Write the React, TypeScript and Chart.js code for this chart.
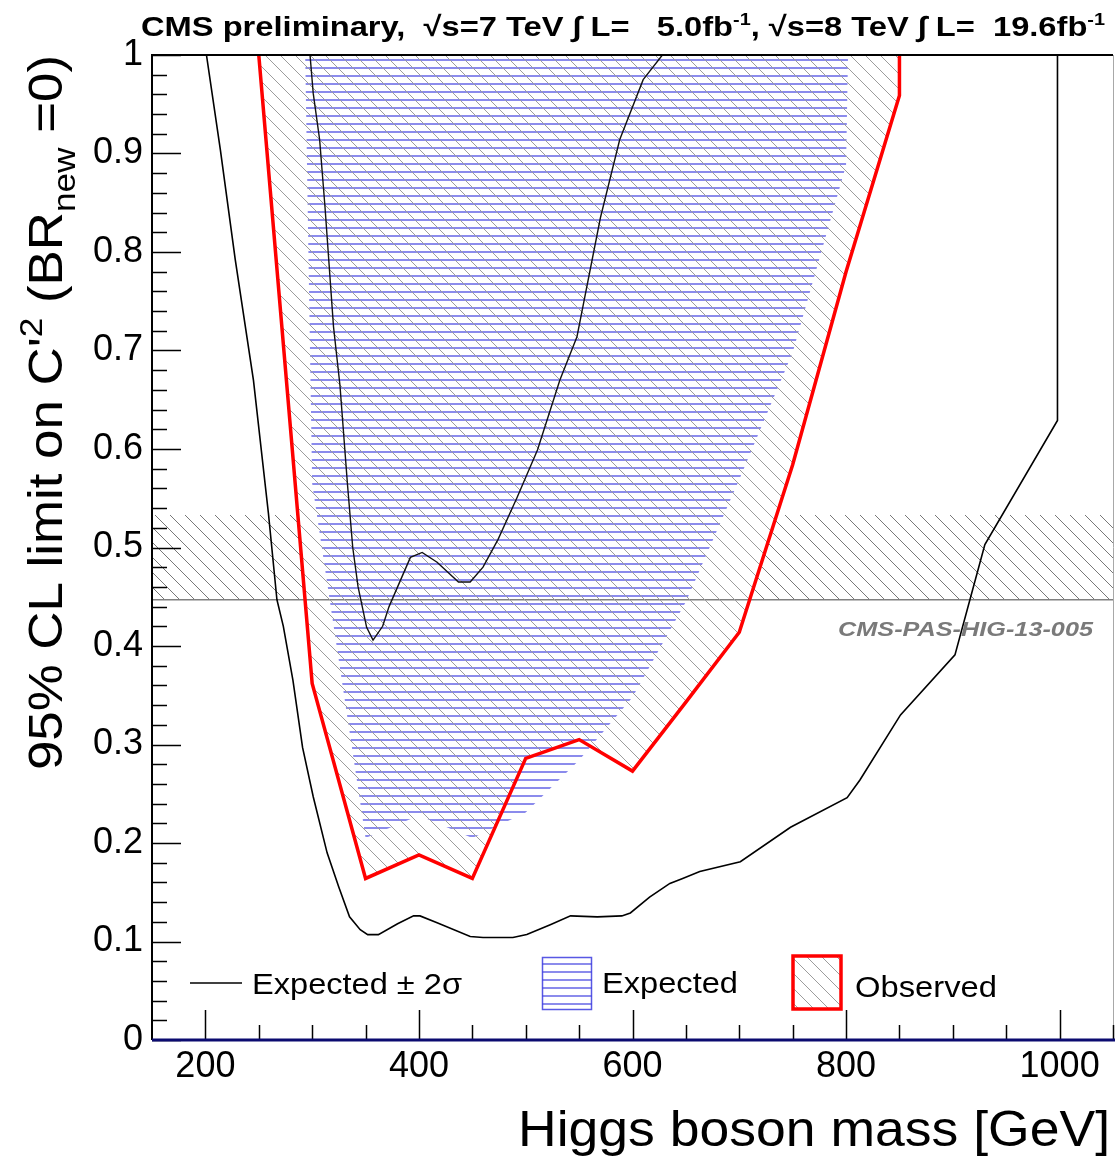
import React, { useEffect, useRef } from 'react';
import { Chart, registerables } from 'chart.js';

Chart.register(...registerables);

const FONT = '"Liberation Sans", Arial, Helvetica, sans-serif';

const X_MIN = 150;
const X_MAX = 1050;
const Y_MIN = 0;
const Y_MAX = 1;
const X_TICKS = [200, 400, 600, 800, 1000];
const Y_TICKS = [0, 0.1, 0.2, 0.3, 0.4, 0.5, 0.6, 0.7, 0.8, 0.9, 1];

// Expected limit (blue horizontal hatch above it)
const EXP_MASS = [250, 300, 350, 400, 450, 500, 550, 600, 650, 700, 750, 800, 850];
const EXP_LIMIT = [3.9, 0.565, 0.205, 0.228, 0.205, 0.231, 0.284, 0.348, 0.445, 0.569, 0.698, 0.888, 3.9];

// Observed limit (red line, grey hatch above it)
const OBS_MASS = [250, 300, 350, 400, 450, 500, 550, 600, 650, 700, 750, 800, 850, 850];
const OBS_LIMIT = [1.0, 0.362, 0.164, 0.188, 0.164, 0.286, 0.305, 0.273, 0.343, 0.414, 0.584, 0.78, 0.959, 1.0];

// Expected -2 sigma (outer black curve)
const LOW_MASS = [201, 214, 228, 245, 259, 267, 273, 282, 291, 301, 314, 325, 335, 345, 352, 362, 380, 395, 401, 417, 448, 460, 488, 501, 523, 542, 567, 590, 598, 616, 635, 647, 663, 701, 748, 801, 813, 851, 902, 930, 998, 998];
const LOW_LIMIT = [1.0, 0.904, 0.792, 0.67, 0.535, 0.447, 0.42, 0.365, 0.297, 0.247, 0.19, 0.155, 0.125, 0.112, 0.107, 0.107, 0.118, 0.126, 0.126, 0.119, 0.105, 0.104, 0.104, 0.107, 0.117, 0.126, 0.125, 0.126, 0.129, 0.145, 0.159, 0.164, 0.171, 0.181, 0.216, 0.246, 0.264, 0.33, 0.391, 0.503, 0.629, 1.0];

// Expected +2 sigma (inner black curve)
const HIGH_MASS = [298, 301, 307, 312, 320, 326, 333, 338, 343, 351, 357, 366, 372, 380, 392, 403, 417, 437, 448, 460, 474, 492, 511, 532, 548, 570, 588, 610, 628];
const HIGH_LIMIT = [1.0, 0.961, 0.914, 0.846, 0.724, 0.665, 0.565, 0.5, 0.46, 0.419, 0.406, 0.42, 0.44, 0.46, 0.49, 0.495, 0.485, 0.465, 0.465, 0.48, 0.508, 0.551, 0.599, 0.67, 0.714, 0.835, 0.914, 0.975, 1.0];

// Indirect constraint band (CMS-PAS-HIG-13-005)
const BAND_MASS = [150, 1050];
const BAND_LOW = [0.447, 0.447];
const BAND_HIGH = [0.533, 0.533];

const pts = (xs: number[], ys: number[]) => xs.map((x, i) => ({ x, y: ys[i] }));

function diagPattern(color: string, step: number, lw: number) {
  const c = document.createElement('canvas');
  c.width = step;
  c.height = step;
  const g = c.getContext('2d')!;
  g.strokeStyle = color;
  g.lineWidth = lw;
  g.beginPath();
  for (const o of [-step, 0, step]) {
    g.moveTo(o - 1, -1);
    g.lineTo(o + step + 1, step + 1);
  }
  g.stroke();
  return g.createPattern(c, 'repeat')!;
}

function horizPattern(color: string, step: number, lw: number) {
  const c = document.createElement('canvas');
  c.width = step;
  c.height = step;
  const g = c.getContext('2d')!;
  g.strokeStyle = color;
  g.lineWidth = lw;
  g.beginPath();
  g.moveTo(0, step / 2);
  g.lineTo(step, step / 2);
  g.stroke();
  return g.createPattern(c, 'repeat')!;
}

type Seg = { t: string; size: number; dy: number; style?: string };

function drawSegs(ctx: CanvasRenderingContext2D, segs: Seg[], x: number, y: number, width: number, rot = 0, color = '#000') {
  ctx.save();
  let total = 0;
  const ws = segs.map((s) => {
    ctx.font = `${s.style ?? ''} ${s.size}px ${FONT}`;
    const w = ctx.measureText(s.t).width;
    total += w;
    return w;
  });
  const k = width / total;
  ctx.translate(x, y);
  if (rot) ctx.rotate(rot);
  ctx.scale(k, 1);
  ctx.fillStyle = color;
  ctx.textAlign = 'left';
  ctx.textBaseline = 'alphabetic';
  let cx = 0;
  segs.forEach((s, i) => {
    ctx.font = `${s.style ?? ''} ${s.size}px ${FONT}`;
    ctx.fillText(s.t, cx, s.dy);
    cx += ws[i];
  });
  ctx.restore();
}

export default function App() {
  const ref = useRef<HTMLCanvasElement | null>(null);

  useEffect(() => {
    const canvas = ref.current!;
    const ctx0 = canvas.getContext('2d')!;
    const greyHatch = diagPattern('#9c9c9c', 15, 1);
    const bandHatch = diagPattern('#787878', 15, 1);
    const blueHatch = horizPattern('rgba(70,70,225,0.9)', 8, 1.4);

    const decor = {
      id: 'decor',
      afterDraw(chart: any) {
        const { ctx, chartArea: a, scales } = chart;
        const xs = scales.x;
        const ys = scales.y;
        ctx.save();
        // frame
        ctx.strokeStyle = '#000';
        ctx.lineWidth = 2;
        ctx.beginPath();
        ctx.moveTo(a.left, a.bottom);
        ctx.lineTo(a.left, a.top);
        ctx.lineTo(a.right, a.top);
        ctx.stroke();
        ctx.strokeStyle = '#a8a8a8';
        ctx.lineWidth = 1;
        ctx.beginPath();
        ctx.moveTo(a.right + 0.5, a.top);
        ctx.lineTo(a.right + 0.5, a.bottom);
        ctx.stroke();
        // ticks
        ctx.strokeStyle = '#000';
        ctx.lineWidth = 1.5;
        ctx.beginPath();
        for (let i = 0; i <= 50; i++) {
          const v = i * 0.02;
          const py = Math.round(ys.getPixelForValue(v)) + 0.5;
          const len = i % 5 === 0 ? 29 : 15;
          ctx.moveTo(a.left, py);
          ctx.lineTo(a.left + len, py);
        }
        for (let m = 200; m <= 1050; m += 50) {
          const px = Math.round(xs.getPixelForValue(m)) + 0.5;
          const len = m % 200 === 0 ? 30 : 15;
          ctx.moveTo(px, a.bottom);
          ctx.lineTo(px, a.bottom - len);
        }
        ctx.stroke();
        ctx.strokeStyle = '#0b0b70';
        ctx.lineWidth = 3;
        ctx.beginPath();
        ctx.moveTo(a.left, a.bottom);
        ctx.lineTo(a.right + 2, a.bottom);
        ctx.stroke();

        // title
        drawSegs(ctx, [
          { t: 'CMS preliminary,  \u221As=7 TeV \u222B L=   5.0fb', size: 28, dy: 0, style: 'bold' },
          { t: '-1', size: 17, dy: -11, style: 'bold' },
          { t: ', \u221As=8 TeV \u222B L=  19.6fb', size: 28, dy: 0, style: 'bold' },
          { t: '-1', size: 17, dy: -11, style: 'bold' },
        ], 141, 36, 964);

        // y title
        drawSegs(ctx, [
          { t: "95% CL limit on C'", size: 48, dy: 0 },
          { t: '2', size: 32, dy: -20 },
          { t: ' (BR', size: 48, dy: 0 },
          { t: 'new', size: 32, dy: 13 },
          { t: ' =0)', size: 48, dy: 0 },
        ], 62, 770, 715, -Math.PI / 2);

        // x title
        drawSegs(ctx, [{ t: 'Higgs boson mass [GeV]', size: 50, dy: 0 }], 518, 1146, 592);

        // band label
        drawSegs(ctx, [{ t: 'CMS-PAS-HIG-13-005', size: 20, dy: 0, style: 'italic bold' }], 838, 636, 255, 0, '#7a7a7a');

        // legend
        ctx.strokeStyle = '#000';
        ctx.lineWidth = 1.6;
        ctx.beginPath();
        ctx.moveTo(190, 983);
        ctx.lineTo(242, 983);
        ctx.stroke();
        drawSegs(ctx, [{ t: 'Expected \u00B1 2\u03C3', size: 30, dy: 0 }], 252, 994, 210);

        ctx.fillStyle = blueHatch;
        ctx.fillRect(542, 957, 50, 53);
        ctx.strokeStyle = 'rgba(70,70,225,0.9)';
        ctx.lineWidth = 1.5;
        ctx.strokeRect(542.5, 957.5, 49, 52);
        drawSegs(ctx, [{ t: 'Expected', size: 30, dy: 0 }], 602, 993, 136);

        ctx.fillStyle = greyHatch;
        ctx.fillRect(792, 955, 50, 55);
        ctx.strokeStyle = '#ff0000';
        ctx.lineWidth = 3.5;
        ctx.strokeRect(793, 956, 48, 53);
        drawSegs(ctx, [{ t: 'Observed', size: 30, dy: 0 }], 855, 997, 142);
        ctx.restore();
      },
    };

    const chart = new Chart(ctx0, {
      type: 'line',
      data: {
        datasets: [
          {
            label: 'band',
            data: pts(BAND_MASS, BAND_HIGH),
            borderWidth: 0,
            borderColor: 'rgba(0,0,0,0)',
            backgroundColor: bandHatch,
            fill: { value: BAND_LOW[0] },
            order: 10,
          },
          {
            label: 'bandLine',
            data: pts(BAND_MASS, BAND_LOW),
            borderWidth: 1.5,
            borderColor: '#808080',
            fill: false,
            order: 9,
          },
          {
            label: 'Expected',
            data: pts(EXP_MASS, EXP_LIMIT),
            borderWidth: 0,
            borderColor: 'rgba(0,0,0,0)',
            backgroundColor: blueHatch,
            fill: 'end',
            order: 8,
          },
          {
            label: 'Observed',
            data: pts(OBS_MASS, OBS_LIMIT),
            borderWidth: 3.5,
            borderColor: '#ff0000',
            backgroundColor: greyHatch,
            fill: 'end',
            order: 7,
          },
          {
            label: 'Expected -2sigma',
            data: pts(LOW_MASS, LOW_LIMIT),
            borderWidth: 1.6,
            borderColor: '#000',
            fill: false,
            order: 6,
          },
          {
            label: 'Expected +2sigma',
            data: pts(HIGH_MASS, HIGH_LIMIT),
            borderWidth: 1.4,
            borderColor: '#111',
            fill: false,
            order: 5,
          },
        ],
      },
      options: {
        responsive: false,
        animation: false,
        devicePixelRatio: 1,
        layout: { padding: { top: 55, right: 2, left: 0, bottom: 0 } },
        plugins: {
          legend: { display: false },
          tooltip: { enabled: false },
          title: { display: false },
        },
        elements: {
          point: { radius: 0, hoverRadius: 0 },
          line: { tension: 0 },
        },
        datasets: { line: { clip: 0 } as any },
        scales: {
          x: {
            type: 'linear',
            min: X_MIN,
            max: X_MAX,
            afterFit: (s: any) => {
              s.height = 120;
            },
            afterBuildTicks: (s: any) => {
              s.ticks = X_TICKS.map((v) => ({ value: v }));
            },
            grid: { display: false, drawTicks: false },
            border: { display: false },
            ticks: {
              color: '#000',
              font: { size: 36, family: FONT },
              padding: 5,
              maxRotation: 0,
              autoSkip: false,
              callback: (v: any) => String(v),
            },
          },
          y: {
            type: 'linear',
            min: Y_MIN,
            max: Y_MAX,
            afterFit: (s: any) => {
              s.width = 152;
            },
            afterBuildTicks: (s: any) => {
              s.ticks = Y_TICKS.map((v) => ({ value: v }));
            },
            grid: { display: false, drawTicks: false },
            border: { display: false },
            ticks: {
              color: '#000',
              font: { size: 36, family: FONT },
              padding: 9,
              autoSkip: false,
              callback: (v: any) => String(v),
            },
          },
        },
      } as any,
      plugins: [decor],
    });
    return () => chart.destroy();
  }, []);

  return (
    <div style={{ position: 'absolute', left: 0, top: 0, width: 1115, height: 1160, background: '#fff' }}>
      <canvas ref={ref} width={1115} height={1160} style={{ display: 'block', width: 1115, height: 1160 }} />
    </div>
  );
}
